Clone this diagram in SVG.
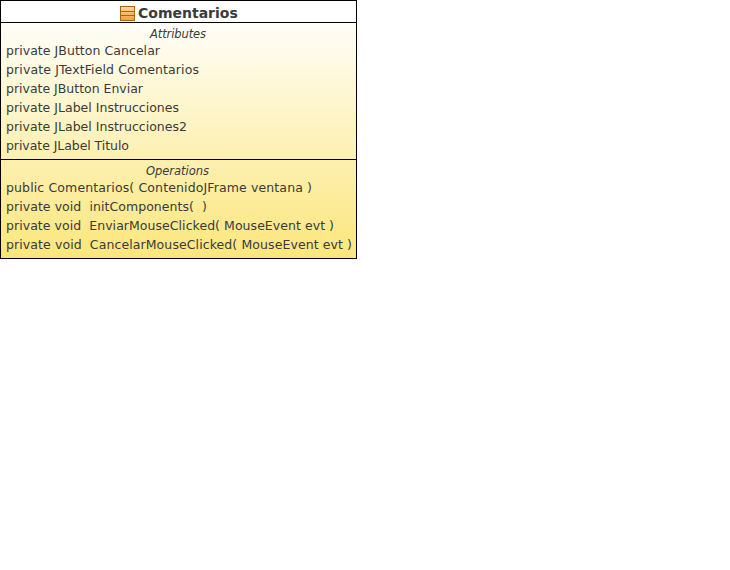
<svg xmlns="http://www.w3.org/2000/svg" width="730" height="570" viewBox="0 0 730 570">
<style>
text{font-family:"DejaVu Sans",sans-serif;font-size:12.5px;fill:#3a3a3a}
.h{font-style:italic;font-size:11.5px}
.t{font-weight:bold;font-size:14px}
.l{fill:none;stroke:#000;stroke-width:1}
</style>
<defs>
<linearGradient id="g" x1="0" y1="0" x2="0" y2="1"><stop offset="0" stop-color="#fffef8"/><stop offset="1" stop-color="#fbe67c"/></linearGradient>
<linearGradient id="ic" x1="0" y1="0" x2="0" y2="1"><stop offset="0" stop-color="#fbd79a"/><stop offset="1" stop-color="#f0a040"/></linearGradient>
</defs>
<rect width="730" height="570" fill="#fff"/>
<g id="comentarios">
<rect x="0.5" y="22.5" width="356" height="236" fill="url(#g)"/>
<rect x="0.5" y="0.5" width="356" height="22" fill="#fff"/>
<rect x="0.5" y="0.5" width="356" height="258" class="l"/>
<path d="M0 22.5H357M0 159.5H357" class="l"/>
<g>
<rect x="120.5" y="6.5" width="14" height="14" fill="url(#ic)" stroke="#a8650f"/>
<path d="M121 11.5H134M121 15.5H134" stroke="#a8650f" fill="none"/>
</g>
<text x="138" y="18" class="t">Comentarios</text>
<text x="150" y="38" class="h" textLength="56">Attributes</text>
<text x="6" y="55" textLength="154">private JButton Cancelar</text>
<text x="6" y="74" textLength="193">private JTextField Comentarios</text>
<text x="6" y="93" textLength="137">private JButton Enviar</text>
<text x="6" y="112" textLength="173">private JLabel Instrucciones</text>
<text x="6" y="131" textLength="181">private JLabel Instrucciones2</text>
<text x="6" y="150" textLength="123">private JLabel Titulo</text>
<text x="146" y="175" class="h" textLength="63">Operations</text>
<text x="6" y="192" textLength="306">public Comentarios( ContenidoJFrame ventana )</text>
<text x="6" y="211" xml:space="preserve" textLength="201">private void  initComponents(  )</text>
<text x="6" y="230" xml:space="preserve" textLength="328">private void  EnviarMouseClicked( MouseEvent evt )</text>
<text x="6" y="249" xml:space="preserve" textLength="346">private void  CancelarMouseClicked( MouseEvent evt )</text>
</g>
<g id="connectors"/>
</svg>
